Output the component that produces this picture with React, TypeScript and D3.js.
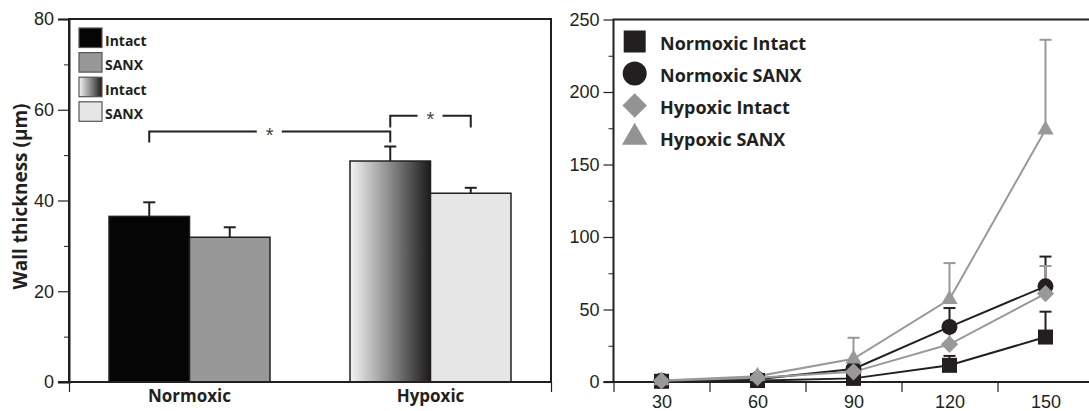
import React, { useRef, useEffect } from "react";
import * as d3 from "d3";

// left panel: wall thickness (µm)
const groups = ["Normoxic", "Hypoxic"];
const treatments = ["Intact", "SANX"];
const normoxicWall = [36.5, 31.9];
const normoxicWallErr = [3.1, 2.2];
const hypoxicWall = [48.7, 41.6];
const hypoxicWallErr = [3.2, 1.2];
const wallTicks = [0, 20, 40, 60, 80];
const wallMinorTicks = [10, 30, 50, 70];
const legendLeft = ["Intact", "SANX", "Intact", "SANX"];

// significance brackets: [group, treatment] -> [group, treatment]
const bracketFrom = [["Normoxic", "Intact"], ["Hypoxic", "Intact"]];
const bracketTo = [["Hypoxic", "Intact"], ["Hypoxic", "SANX"]];
const bracketLevel = [55.2, 58.7];
const bracketDrop = [52.8, 56.1];

// right panel
const timePoints = [30, 60, 90, 120, 150];
const seriesNames = ["Normoxic Intact", "Normoxic SANX", "Hypoxic Intact", "Hypoxic SANX"];
const normoxicIntact = [0.5, 1, 2.5, 11.5, 31];
const normoxicIntactErr = [0.5, 0.5, 1, 6.5, 17.5];
const normoxicSanx = [0.8, 2, 9, 38, 66];
const normoxicSanxErr = [0.5, 0.5, 1.5, 13, 20.5];
const hypoxicIntact = [0.8, 3, 7, 26, 61];
const hypoxicIntactErr = [0.5, 0.5, 1, 8.5, 19];
const hypoxicSanx = [1, 4, 16, 57, 174];
const hypoxicSanxErr = [0.5, 1, 14.5, 25, 62];
const rightTicks = [0, 50, 100, 150, 200, 250];
const rightMinorTicks = [25, 75, 125, 175, 225];
const timeTickMarks = [15, 45, 75, 105, 135, 165];

const INK = "#231f20";
const GRAY = "#999999";
const TICK_FONT = "'Liberation Sans', Arial, sans-serif";
const BOLD_FONT = "'Open Sans', 'Noto Sans', sans-serif";

const App = () => {
  const ref = useRef<SVGSVGElement>(null);

  useEffect(() => {
    const svg = d3.select(ref.current);
    svg.selectAll("*").remove();

    const defs = svg.append("defs");
    const grad = defs
      .append("linearGradient")
      .attr("id", "hypoxicIntactGrad")
      .attr("x1", "0%")
      .attr("x2", "100%")
      .attr("y1", "0%")
      .attr("y2", "0%");
    grad.append("stop").attr("offset", "0%").attr("stop-color", "#f4f4f4");
    grad.append("stop").attr("offset", "50%").attr("stop-color", "#8a8a8a");
    grad.append("stop").attr("offset", "100%").attr("stop-color", "#1c1a1b");

    const barFill = [
      ["#050505", "#989898"],
      ["url(#hypoxicIntactGrad)", "#e6e6e6"],
    ];

    // ---------- left panel ----------
    const L = { left: 69, right: 551, top: 19, bottom: 382 };
    const yL = d3.scaleLinear().domain([0, 80]).range([L.bottom, L.top]);
    const xG = d3
      .scaleBand()
      .domain(groups)
      .range([L.left, L.right])
      .paddingInner(0.332)
      .paddingOuter(0.166);
    const xT = d3.scaleBand().domain(treatments).range([0, xG.bandwidth()]);

    const left = svg.append("g");

    const barData = groups.flatMap((g, gi) => {
      const vals = gi === 0 ? normoxicWall : hypoxicWall;
      const errs = gi === 0 ? normoxicWallErr : hypoxicWallErr;
      return treatments.map((t, ti) => ({ g, t, gi, ti, v: vals[ti], e: errs[ti] }));
    });

    // error bars (up only)
    const eb = left.append("g").attr("stroke", INK).attr("stroke-width", 2);
    barData.forEach((d) => {
      const cx = xG(d.g)! + xT(d.t)! + xT.bandwidth() / 2;
      eb.append("line").attr("x1", cx).attr("x2", cx).attr("y1", yL(d.v)).attr("y2", yL(d.v + d.e));
      eb.append("line").attr("x1", cx - 6).attr("x2", cx + 6).attr("y1", yL(d.v + d.e)).attr("y2", yL(d.v + d.e));
    });

    left
      .append("g")
      .selectAll("rect")
      .data(barData)
      .join("rect")
      .attr("x", (d) => xG(d.g)! + xT(d.t)!)
      .attr("y", (d) => yL(d.v))
      .attr("width", xT.bandwidth())
      .attr("height", (d) => yL(0) - yL(d.v))
      .attr("fill", (d) => barFill[d.gi][d.ti])
      .attr("stroke", INK)
      .attr("stroke-width", 1.5);

    // frame
    left
      .append("path")
      .attr("d", `M${L.left},${L.bottom}V${L.top}H${L.right}V${L.bottom}`)
      .attr("fill", "none")
      .attr("stroke", INK)
      .attr("stroke-width", 2);

    // y axis
    const yAxisL = left
      .append("g")
      .attr("transform", `translate(${L.left},0)`)
      .call(d3.axisLeft(yL).tickValues(wallTicks).tickSize(11).tickPadding(4).tickFormat(d3.format("d")));
    yAxisL.select(".domain").attr("stroke", INK).attr("stroke-width", 2);
    yAxisL.selectAll(".tick line").attr("stroke", INK).attr("stroke-width", 1.2);
    yAxisL.selectAll("text").attr("font-family", TICK_FONT).attr("font-size", 18).attr("fill", INK);
    left
      .append("g")
      .attr("transform", `translate(${L.left},0)`)
      .call(d3.axisLeft(yL).tickValues(wallMinorTicks).tickSize(5).tickFormat(() => ""))
      .call((g) => g.select(".domain").remove())
      .selectAll(".tick line")
      .attr("stroke", INK)
      .attr("stroke-width", 1);

    // x axis
    const xAxisL = left
      .append("g")
      .attr("transform", `translate(0,${L.bottom})`)
      .call(d3.axisBottom(d3.scaleLinear().domain([0, 1]).range([L.left, L.right])).tickValues([0, 1]).tickSize(10).tickFormat(() => ""));
    xAxisL.select(".domain").remove();
    xAxisL.selectAll(".tick line").attr("stroke", INK).attr("stroke-width", 1.2);
    left
      .append("line")
      .attr("x1", L.left - 11)
      .attr("x2", L.right)
      .attr("y1", L.bottom)
      .attr("y2", L.bottom)
      .attr("stroke", INK)
      .attr("stroke-width", 2);

    left
      .append("g")
      .selectAll("text")
      .data(groups)
      .join("text")
      .attr("x", (d) => xG(d)! + xG.bandwidth() / 2)
      .attr("y", 401.5)
      .attr("text-anchor", "middle")
      .attr("font-family", BOLD_FONT)
      .attr("font-weight", 700)
      .attr("font-size", 17)
      .attr("fill", INK)
      .text((d) => d);

    left
      .append("text")
      .attr("transform", `translate(27,${(yL(0) + yL(80)) / 2 - 4}) rotate(-90)`)
      .attr("text-anchor", "middle")
      .attr("font-family", BOLD_FONT)
      .attr("font-weight", 700)
      .attr("font-size", 19)
      .attr("fill", INK)
      .text("Wall thickness (μm)");

    // significance brackets
    const br = left.append("g").attr("stroke", INK).attr("stroke-width", 2).attr("fill", "none");
    bracketFrom.forEach((f, i) => {
      const t = bracketTo[i];
      const x1 = xG(f[0])! + xT(f[1])! + xT.bandwidth() / 2;
      const x2 = xG(t[0])! + xT(t[1])! + xT.bandwidth() / 2;
      const yl = yL(bracketLevel[i]);
      const yd = yL(bracketDrop[i]);
      const mid = (x1 + x2) / 2;
      br.append("path").attr("d", `M${x1},${yd}V${yl}H${mid - 13}`);
      br.append("path").attr("d", `M${mid + 12},${yl}H${x2}V${yd}`);
      left
        .append("text")
        .attr("x", mid)
        .attr("y", yl + 10)
        .attr("text-anchor", "middle")
        .attr("font-family", TICK_FONT)
        .attr("font-size", 20)
        .attr("fill", "#444")
        .text("*");
    });

    // legend left
    const legL = left.append("g");
    legendLeft.forEach((lab, i) => {
      const y0 = 28 + i * 24.6;
      legL
        .append("rect")
        .attr("x", 79)
        .attr("y", y0)
        .attr("width", 23)
        .attr("height", 19.5)
        .attr("fill", barFill[Math.floor(i / 2)][i % 2])
        .attr("stroke", "#555")
        .attr("stroke-width", 1.2);
      legL
        .append("text")
        .attr("x", 105)
        .attr("y", y0 + 17.6)
        .attr("font-family", BOLD_FONT)
        .attr("font-weight", 700)
        .attr("font-size", 14)
        .attr("fill", INK)
        .text(lab);
    });

    // ---------- right panel ----------
    const R = { left: 613.5, top: 19.5, bottom: 382 };
    const xR = d3.scaleLinear().domain([15, 165]).range([R.left, R.left + 480]);
    const yR = d3.scaleLinear().domain([0, 250]).range([R.bottom, R.top]);
    const right = svg.append("g");

    right
      .append("path")
      .attr("d", `M${R.left},${R.bottom}V${R.top}H1089`)
      .attr("fill", "none")
      .attr("stroke", INK)
      .attr("stroke-width", 2);

    const yAxisR = right
      .append("g")
      .attr("transform", `translate(${R.left},0)`)
      .call(d3.axisLeft(yR).tickValues(rightTicks).tickSize(10).tickPadding(4));
    yAxisR.select(".domain").remove();
    yAxisR.selectAll(".tick line").attr("stroke", INK).attr("stroke-width", 1.2);
    yAxisR.selectAll("text").attr("font-family", TICK_FONT).attr("font-size", 18).attr("fill", INK);
    right
      .append("g")
      .attr("transform", `translate(${R.left},0)`)
      .call(d3.axisLeft(yR).tickValues(rightMinorTicks).tickSize(5).tickFormat(() => ""))
      .call((g) => g.select(".domain").remove())
      .selectAll(".tick line")
      .attr("stroke", INK)
      .attr("stroke-width", 1);

    const xAxisR = right
      .append("g")
      .attr("transform", `translate(0,${R.bottom})`)
      .call(d3.axisBottom(xR).tickValues(timeTickMarks).tickSize(10).tickFormat(() => ""));
    xAxisR.select(".domain").remove();
    xAxisR.selectAll(".tick line").attr("stroke", INK).attr("stroke-width", 1.2);
    right
      .append("line")
      .attr("x1", R.left - 10)
      .attr("x2", 1089)
      .attr("y1", R.bottom)
      .attr("y2", R.bottom)
      .attr("stroke", INK)
      .attr("stroke-width", 2);
    right
      .append("g")
      .attr("transform", `translate(0,${R.bottom})`)
      .call(d3.axisBottom(xR).tickValues(timePoints).tickSize(0).tickPadding(13))
      .call((g) => g.select(".domain").remove())
      .selectAll("text")
      .attr("font-family", TICK_FONT)
      .attr("font-size", 18)
      .attr("fill", INK);

    const seriesVals = [normoxicIntact, normoxicSanx, hypoxicIntact, hypoxicSanx];
    const seriesErrs = [normoxicIntactErr, normoxicSanxErr, hypoxicIntactErr, hypoxicSanxErr];
    const seriesColor = [INK, INK, GRAY, GRAY];
    const symbolTypes = [d3.symbolSquare, d3.symbolCircle, d3.symbolSquare, d3.symbolTriangle];
    const markSize = [225, 200, 150, 115];
    const legendSize = [484, 452, 300, 280];
    const rotation = [0, 0, 45, 0];

    const line = d3
      .line<number>()
      .x((_, i) => xR(timePoints[i]))
      .y((d) => yR(d));

    // error bars + lines
    seriesVals.forEach((vals, s) => {
      const g = right.append("g").attr("stroke", seriesColor[s]).attr("stroke-width", 2);
      vals.forEach((v, i) => {
        const cx = xR(timePoints[i]);
        const top = yR(v + seriesErrs[s][i]);
        g.append("line").attr("x1", cx).attr("x2", cx).attr("y1", yR(v)).attr("y2", top);
        g.append("line").attr("x1", cx - 6).attr("x2", cx + 6).attr("y1", top).attr("y2", top);
      });
    });
    seriesVals.forEach((vals, s) => {
      right
        .append("path")
        .datum(vals)
        .attr("d", line)
        .attr("fill", "none")
        .attr("stroke", seriesColor[s])
        .attr("stroke-width", 2);
    });
    seriesVals.forEach((vals, s) => {
      right
        .append("g")
        .selectAll("path")
        .data(vals)
        .join("path")
        .attr("d", d3.symbol().type(symbolTypes[s]).size(markSize[s])())
        .attr("transform", (d, i) => `translate(${xR(timePoints[i])},${yR(d)}) rotate(${rotation[s]})`)
        .attr("fill", seriesColor[s]);
    });

    // legend right
    seriesNames.forEach((name, s) => {
      const cy = 41.5 + s * 32;
      right
        .append("path")
        .attr("d", d3.symbol().type(symbolTypes[s]).size(legendSize[s])())
        .attr("transform", `translate(634.7,${cy}) rotate(${rotation[s]})`)
        .attr("fill", s < 2 ? INK : "#939393");
      right
        .append("text")
        .attr("x", 660)
        .attr("y", cy + 8.5)
        .attr("font-family", BOLD_FONT)
        .attr("font-weight", 700)
        .attr("font-size", 18)
        .attr("fill", INK)
        .text(name);
    });
  }, []);

  return (
    <svg
      ref={ref}
      width={1089}
      height={411}
      style={{ position: "absolute", left: 0, top: 0, background: "#fff" }}
    />
  );
};

export default App;
